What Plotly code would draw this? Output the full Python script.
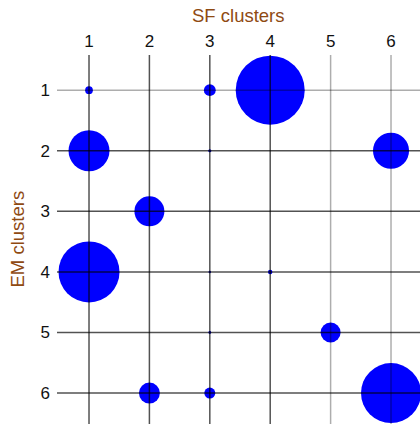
import math
import plotly.graph_objects as go

# Data: cluster cross-tabulation (SF cluster on x, EM cluster on y), bubble area ~ count
sf_cluster = [1, 3, 4, 1, 3, 6, 2, 1, 3, 4, 3, 5, 2, 3, 6]
em_cluster = [1, 1, 1, 2, 2, 2, 3, 4, 4, 4, 5, 5, 6, 6, 6]
counts     = [6, 14, 476, 168, 1, 130, 90, 372, 0.6, 2, 0.8, 40, 44, 12, 360]
tick_vals = [1, 2, 3, 4, 5, 6]
tick_text = ["1", "2", "3", "4", "5", "6"]

scale = math.sqrt(10)
diam = [math.sqrt(c) * scale for c in counts]

fig = go.Figure()
fig.add_trace(go.Scatter(
    x=sf_cluster, y=em_cluster, mode="markers",
    marker=dict(size=diam, sizemode="diameter", color="#0000ff", opacity=1, line=dict(width=0)),
    cliponaxis=True, hoverinfo="x+y",
))

dark = "rgba(0,0,0,0.68)"
light = "rgba(0,0,0,0.32)"
vcol = {1: dark, 2: dark, 3: dark, 4: dark, 5: light, 6: light}
hcol = {1: light, 2: dark, 3: dark, 4: dark, 5: dark, 6: dark}
for v in tick_vals:
    fig.add_shape(type="line", xref="x", yref="paper", x0=v, x1=v, y0=0, y1=1,
                  line=dict(color=vcol[v], width=1.5), layer="above")
    fig.add_shape(type="line", xref="paper", yref="y", x0=0, x1=1, y0=v, y1=v,
                  line=dict(color=hcol[v], width=1.5), layer="above")

brown = "#8f4a12"
fig.add_annotation(text="SF clusters", xref="paper", yref="paper", x=0.5, y=1,
                   yshift=40, showarrow=False, font=dict(color=brown, size=18.5),
                   xanchor="center", yanchor="middle")
fig.add_annotation(text="EM clusters", xref="paper", yref="paper", x=0, y=0.5,
                   xshift=-40, textangle=-90, showarrow=False, font=dict(color=brown, size=18.5),
                   xanchor="center", yanchor="middle")

fig.update_layout(
    width=420, height=424,
    margin=dict(l=57, r=0, t=55, b=0, autoexpand=False),
    paper_bgcolor="white", plot_bgcolor="white",
    showlegend=False,
    font=dict(family="Liberation Sans, Arial, sans-serif", size=17, color="#111"),
    xaxis=dict(side="top", range=[0.47, 6.48], tickvals=tick_vals, ticktext=tick_text,
               showgrid=False, zeroline=False, showline=False, ticks="",
               ticklabelstandoff=4, automargin=False),
    yaxis=dict(range=[6.51, 0.42], tickvals=tick_vals, ticktext=tick_text,
               showgrid=False, zeroline=False, showline=False, ticks="",
               ticklabelstandoff=6, automargin=False),
)
fig.write_html("out.html", config={"displayModeBar": False},
               post_script="document.body.style.margin='0';document.body.style.overflow='hidden';")
